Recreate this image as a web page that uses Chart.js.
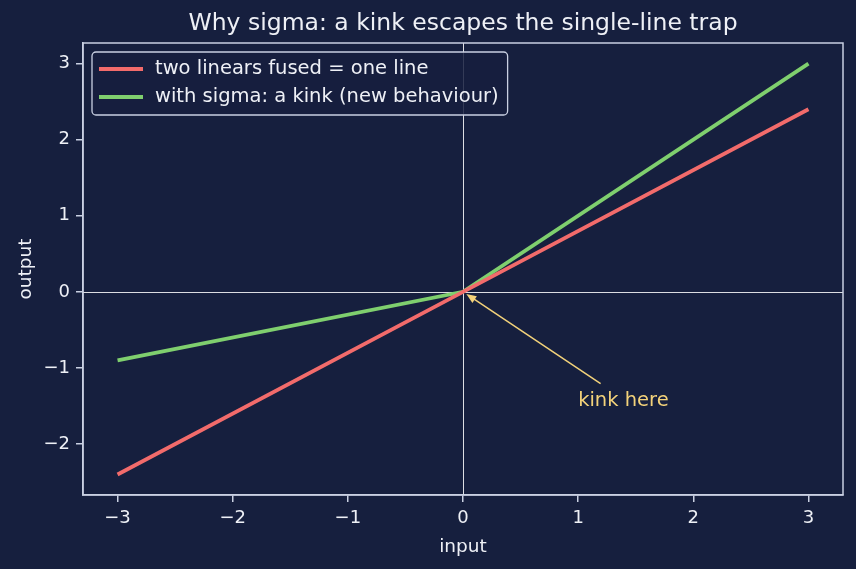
<!DOCTYPE html>
<html>
<head>
<meta charset="utf-8">
<script src="https://cdn.jsdelivr.net/npm/chart.js@4"></script>
<style>
  html, body { margin: 0; padding: 0; background: #161f3e; }
  #wrap { width: 856px; height: 569px; }
</style>
</head>
<body>
<div id="wrap"><canvas id="kinkChart" width="856" height="569"></canvas></div>
<script>
// input values and the two curves
const inputs = [-3, 0, 3];
const fusedLine = [-2.4, 0, 2.4];
const sigmaKink = [-0.9, 0, 3];
const xTicks = [-3, -2, -1, 0, 1, 2, 3];
const yTicks = [-2, -1, 0, 1, 2, 3];
const seriesNames = ['two linears fused = one line', 'with sigma: a kink (new behaviour)'];

// annotation (data coords)
const kinkPoint = { x: 0, y: 0 };
const kinkText = { x: 1, y: -1.5, label: 'kink here' };

const BG = '#161f3e';
const FG = '#eef0f6';
const SPINE = '#c9d0e2';
const RED = '#f26b6b';
const GREEN = '#7fcf6e';
const YELLOW = '#f3d27a';
const FONT = '"DejaVu Sans", sans-serif';

const minus = v => (v < 0 ? '\u2212' + Math.abs(v) : String(v));

const extras = {
    id: 'extras',
    beforeDraw(chart) {
        const c = chart.ctx;
        c.save();
        c.fillStyle = BG;
        c.fillRect(0, 0, chart.width, chart.height);
        c.restore();
    },
    beforeDatasetsDraw(chart) {
        const { ctx: c, chartArea: a, scales: { x, y } } = chart;
        // zero lines
        c.save();
        c.strokeStyle = 'rgba(255,255,255,0.85)';
        c.lineWidth = 1;
        const x0 = Math.round(x.getPixelForValue(0)) + 0.5;
        const y0 = Math.round(y.getPixelForValue(0)) + 0.5;
        c.beginPath();
        c.moveTo(a.left, y0); c.lineTo(a.right, y0);
        c.moveTo(x0, a.top); c.lineTo(x0, a.bottom);
        c.stroke();
        c.restore();
    },
    afterDatasetsDraw(chart) {
        const { ctx: c, chartArea: a, scales: { x, y } } = chart;
        c.save();
        // frame
        c.strokeStyle = SPINE;
        c.lineWidth = 1.5;
        c.strokeRect(a.left, a.top, a.right - a.left, a.bottom - a.top);

        // title
        c.fillStyle = FG;
        c.font = '23.5px ' + FONT;
        c.textAlign = 'center';
        c.textBaseline = 'alphabetic';
        c.fillText('Why sigma: a kink escapes the single-line trap', (a.left + a.right) / 2, 30);

        // annotation
        const tx = x.getPixelForValue(kinkText.x);
        const ty = y.getPixelForValue(kinkText.y);
        c.font = '19.5px ' + FONT;
        c.textAlign = 'left';
        c.fillStyle = YELLOW;
        c.fillText(kinkText.label, tx, ty);
        const tw = c.measureText(kinkText.label).width;
        const cx = tx + tw / 2, cy = ty - 7;
        const px = x.getPixelForValue(kinkPoint.x), py = y.getPixelForValue(kinkPoint.y);
        const dx = px - cx, dy = py - cy, len = Math.hypot(dx, dy);
        const ux = dx / len, uy = dy / len;
        const tStart = 13 / Math.abs(uy) + 4;
        const sx = cx + ux * tStart, sy = cy + uy * tStart;
        const ex = px - ux * 4, ey = py - uy * 4;
        c.strokeStyle = YELLOW;
        c.lineWidth = 1.5;
        c.beginPath();
        c.moveTo(sx, sy);
        c.lineTo(ex - ux * 8, ey - uy * 8);
        c.stroke();
        c.beginPath();
        c.moveTo(ex, ey);
        c.lineTo(ex - ux * 10 - uy * 4, ey - uy * 10 + ux * 4);
        c.lineTo(ex - ux * 10 + uy * 4, ey - uy * 10 - ux * 4);
        c.closePath();
        c.fillStyle = YELLOW;
        c.fill();

        // legend
        c.font = '19.5px ' + FONT;
        const lx = a.left + 9, ly = a.top + 9;
        const textW = Math.max(...seriesNames.map(n => c.measureText(n).width));
        const bw = 62 + textW + 10, bh = 63;
        c.beginPath();
        c.roundRect(lx, ly, bw, bh, 4);
        c.fillStyle = 'rgba(22,31,62,0.85)';
        c.fill();
        c.strokeStyle = SPINE;
        c.lineWidth = 1.3;
        c.stroke();
        const colors = [RED, GREEN];
        seriesNames.forEach((name, i) => {
            const rowY = ly + 17 + i * 28;
            c.strokeStyle = colors[i];
            c.lineWidth = 4;
            c.beginPath();
            c.moveTo(lx + 7, rowY); c.lineTo(lx + 51, rowY);
            c.stroke();
            c.fillStyle = FG;
            c.textBaseline = 'middle';
            c.fillText(name, lx + 63, rowY);
        });
        c.restore();
    }
};

const ctx = document.getElementById('kinkChart').getContext('2d');
new Chart(ctx, {
    type: 'line',
    data: {
        datasets: [
            { label: seriesNames[0], data: inputs.map((v, i) => ({ x: v, y: fusedLine[i] })), borderColor: RED, borderWidth: 3.8, pointRadius: 0, tension: 0 },
            { label: seriesNames[1], data: inputs.map((v, i) => ({ x: v, y: sigmaKink[i] })), borderColor: GREEN, borderWidth: 3.8, pointRadius: 0, tension: 0 }
        ]
    },
    options: {
        responsive: false,
        animation: false,
        layout: { padding: { top: 43, right: 13, left: 0, bottom: 0 } },
        plugins: { legend: { display: false }, tooltip: { enabled: false } },
        scales: {
            x: {
                type: 'linear', min: -3.3, max: 3.3,
                afterBuildTicks: s => { s.ticks = xTicks.map(v => ({ value: v })); },
                afterFit: s => { s.height = 74; },
                grid: { drawOnChartArea: false, tickLength: 7, color: SPINE, lineWidth: 1.5 },
                border: { display: true, color: SPINE, width: 1.5 },
                ticks: { color: FG, font: { family: FONT, size: 18 }, padding: 6, callback: minus, maxRotation: 0 },
                title: { display: true, text: 'input', color: FG, font: { family: FONT, size: 18.5 }, padding: { top: 0, bottom: 11 } }
            },
            y: {
                type: 'linear', min: -2.67, max: 3.27,
                afterBuildTicks: s => { s.ticks = yTicks.map(v => ({ value: v })); },
                afterFit: s => { s.width = 83; },
                grid: { drawOnChartArea: false, tickLength: 7, color: SPINE, lineWidth: 1.5 },
                border: { display: true, color: SPINE, width: 1.5 },
                ticks: { color: FG, font: { family: FONT, size: 18 }, padding: 6, callback: minus },
                title: { display: true, text: 'output', color: FG, font: { family: FONT, size: 18.5 }, padding: { top: 15, bottom: 0 } }
            }
        }
    },
    plugins: [extras]
});
</script>
</body>
</html>
